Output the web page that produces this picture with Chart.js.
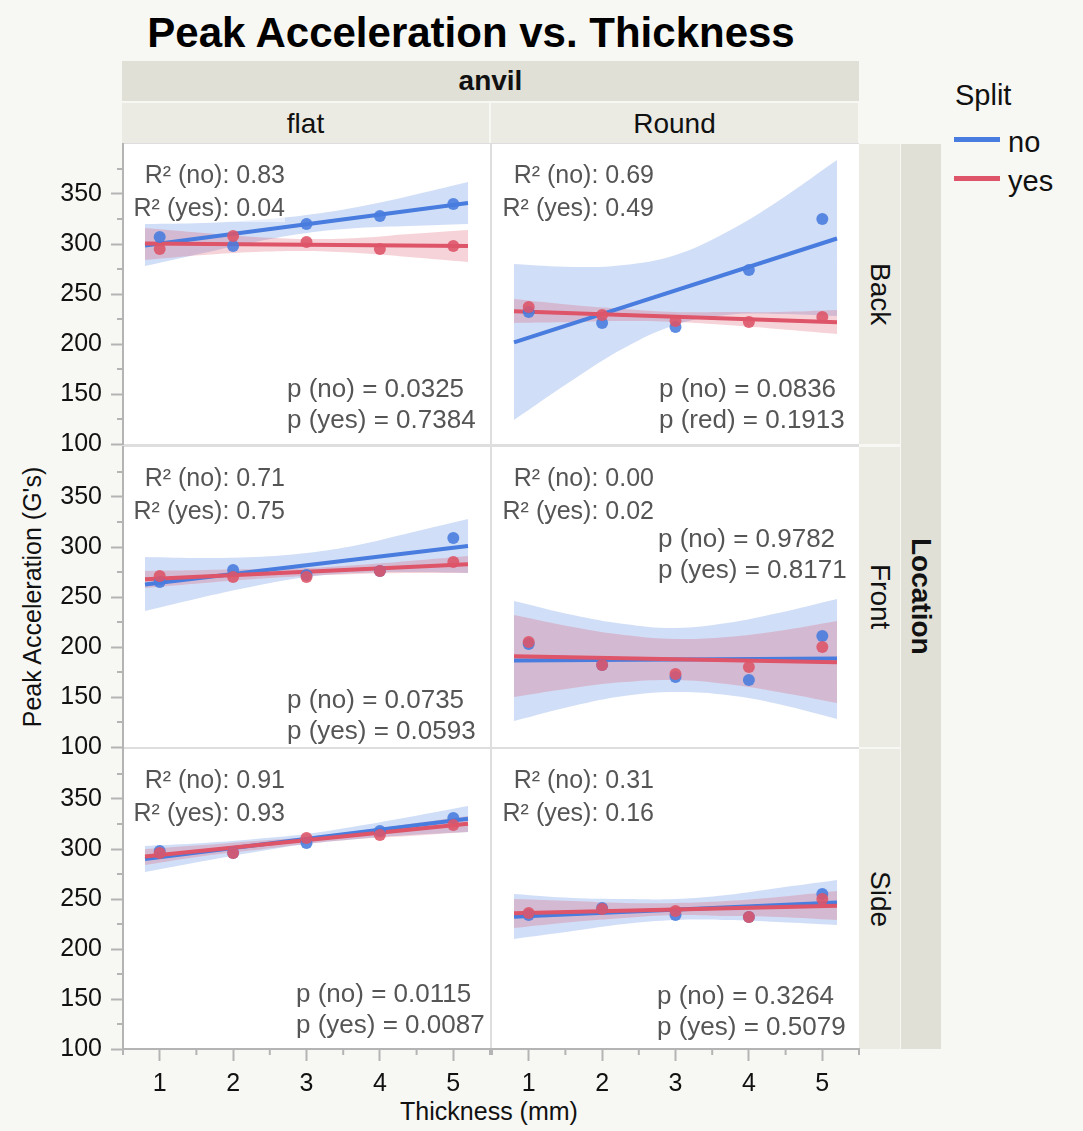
<!DOCTYPE html>
<html>
<head>
<meta charset="utf-8">
<script src="https://cdn.jsdelivr.net/npm/chart.js@4.4.0/dist/chart.umd.min.js"></script>
<style>
  body { margin: 0; background: #f7f7f3; font-family: "Liberation Sans", Arial, sans-serif; }
  #page { position: relative; width: 1083px; height: 1131px; overflow: hidden; }
  .abs { position: absolute; }
  .dark { background: #e0e0d6; }
  .light { background: #ebebe4; }
  .strip { display: flex; align-items: center; justify-content: center; color: #111; font-size: 28px; }
  .vert { writing-mode: vertical-rl; }
  .note { position: absolute; color: #555; font-size: 25px; line-height: 30px; white-space: nowrap; background: rgba(255, 255, 255, 0.55); }
  .pval { font-size: 26px; }
</style>
</head>
<body>
<div id="page"></div>
<script>
const thickness = [1, 2, 3, 4, 5];
const anvils = ["flat", "Round"];
const locations = ["Back", "Front", "Side"];

// panels: flat/Back, Round/Back, flat/Front, Round/Front, flat/Side, Round/Side
const peakNo = [
  [307, 298, 320, 328, 340],
  [232, 221, 217, 274, 325],
  [265, 277, 272, 276, 309],
  [203, 182, 170, 167, 211],
  [298, 296, 306, 318, 331],
  [234, 241, 234, 232, 255],
];
const peakYes = [
  [295, 308, 302, 295, 298],
  [237, 229, 223, 222, 227],
  [271, 270, 270, 276, 285],
  [205, 182, 173, 180, 200],
  [296, 296, 311, 314, 324],
  [236, 240, 238, 232, 250],
];

// fitted lines, read at both ends
const fitX = [0.8, 5.2];
const fitNo = [[298.5, 341], [201.7, 305.5], [262.6, 301], [186.4, 188.4], [290, 330.2], [232.2, 246.6]];
const fitYes = [[300.5, 298], [232.8, 221.8], [267.7, 282.7], [190.7, 184.7], [292.4, 325.2], [235.8, 243.3]];

// confidence bands, read along the x range
const bandX = [0.8, 1.6, 2.3, 3, 3.7, 4.4, 5.2];
const bandNoHi = [
  [320, 321, 324, 329, 337, 348, 362],
  [280, 277, 279, 289, 312, 343, 384],
  [290, 289, 290, 294, 302, 314, 328],
  [246, 232, 223, 219, 224, 234, 248],
  [303, 306, 310, 315, 323, 332, 343],
  [255, 251, 250, 250, 254, 261, 269],
];
const bandNoLo = [
  [278, 291, 302, 311, 316, 318, 320],
  [124, 164, 196, 219, 229, 230, 228],
  [236, 250, 261, 270, 274, 275, 274],
  [126, 141, 151, 155, 152, 143, 128],
  [277, 288, 297, 305, 310, 314, 317],
  [210, 218, 225, 229, 229, 227, 224],
];
const bandYesHi = [
  [316, 311, 307, 305, 306, 310, 314],
  [245, 239, 235, 232, 232, 232, 234],
  [276, 277, 278, 279, 282, 286, 291],
  [232, 220, 212, 208, 210, 216, 226],
  [300, 304, 308, 312, 318, 325, 333],
  [250, 248, 246, 246, 248, 252, 258],
];
const bandYesLo = [
  [284, 289, 292, 293, 291, 287, 282],
  [221, 222, 223, 222, 219, 215, 210],
  [259, 264, 268, 271, 273, 274, 274],
  [150, 159, 165, 167, 163, 155, 144],
  [284, 293, 299, 305, 310, 313, 317],
  [221, 227, 231, 234, 233, 232, 229],
];

const r2No = ["0.83", "0.69", "0.71", "0.00", "0.91", "0.31"];
const r2Yes = ["0.04", "0.49", "0.75", "0.02", "0.93", "0.16"];
const pNo = ["0.0325", "0.0836", "0.0735", "0.9782", "0.0115", "0.3264"];
const pYes = ["0.7384", "0.1913", "0.0593", "0.8171", "0.0087", "0.5079"];
const pYesName = ["yes", "red", "yes", "yes", "yes", "yes"];

const yTicks = [100, 150, 200, 250, 300, 350];
const yMinor = [125, 175, 225, 275, 325, 375];
const xTicks = [1, 2, 3, 4, 5];
const xMinor = [0.5, 1.5, 2.5, 3.5, 4.5, 5.5];

// layout
const colX = [123, 492];
const rowY = [144, 447, 749];
const panelW = 367, panelH = 300, M = 30;
const r2Right = [285, 654];
const pLeft = [287, 659, 287, 658, 296, 657];
const pTop = [244, 244, 252, 91, 244, 246];

const blue = "rgb(72, 124, 222)";
const red = "rgb(222, 84, 104)";
const blueBand = "rgba(72, 124, 222, 0.25)";
const redBand = "rgba(220, 80, 100, 0.25)";
const bluePt = "rgba(72, 124, 222, 0.88)";
const redPt = "rgba(222, 84, 104, 0.88)";
const axisGray = "#b4b4b4";
const font = { family: "'Liberation Sans', Arial, sans-serif", size: 25 };

const page = document.getElementById("page");
function el(cls, style, text) {
  const d = document.createElement("div");
  d.className = cls;
  d.style.cssText = style;
  if (text !== undefined) d.textContent = text;
  page.appendChild(d);
  return d;
}

// title, strips, legend, axis titles
el("abs", "left:0;width:942px;top:9px;line-height:48px;text-align:center;font-size:42px;font-weight:bold;color:#000", "Peak Acceleration vs. Thickness");
el("abs strip dark", "left:122px;top:61px;width:737px;height:40px;font-weight:bold", "anvil");
anvils.forEach((a, c) => {
  el("abs strip light", `left:${colX[c] - 1}px;top:103px;width:${panelW}px;height:41px`, a);
});
el("abs", `left:122px;top:143px;width:737px;height:907px;background:#dedede`);
locations.forEach((loc, r) => {
  el("abs strip light vert", `left:859px;top:${rowY[r]}px;width:41px;height:${panelH}px`, loc);
});
el("abs strip dark vert", "left:901px;top:144px;width:40px;height:905px;font-weight:bold", "Location");

el("abs", "left:955px;top:79px;font-size:29px;line-height:32px;color:#111", "Split");
el("abs", "left:954px;top:137px;width:46px;height:5px;background:" + blue);
el("abs", "left:954px;top:176px;width:46px;height:5px;background:" + red);
el("abs", "left:1008px;top:126px;font-size:29px;line-height:32px;color:#111", "no");
el("abs", "left:1008px;top:165px;font-size:29px;line-height:32px;color:#111", "yes");

el("abs", "left:-118px;top:582px;width:300px;text-align:center;font-size:25px;line-height:30px;color:#111;transform:rotate(-90deg)", "Peak Acceleration (G's)");
el("abs", "left:339px;top:1096px;width:300px;text-align:center;font-size:25px;line-height:30px;color:#111", "Thickness (mm)");

const minorTicks = {
  id: "minorTicks",
  afterDraw(chart) {
    const { ctx, chartArea, scales } = chart;
    ctx.save();
    ctx.strokeStyle = axisGray;
    ctx.lineWidth = 2;
    ctx.beginPath();
    if (scales.y.options.display) {
      yMinor.forEach(v => {
        const y = scales.y.getPixelForValue(v);
        ctx.moveTo(chartArea.left - 6, y);
        ctx.lineTo(chartArea.left, y);
      });
    }
    if (scales.x.options.display) {
      xMinor.forEach(v => {
        const x = scales.x.getPixelForValue(v);
        ctx.moveTo(x, chartArea.bottom);
        ctx.lineTo(x, chartArea.bottom + 6);
      });
    }
    ctx.stroke();
    ctx.restore();
  },
};

const xy = (xs, ys) => xs.map((x, i) => ({ x, y: ys[i] }));

function makePanel(i) {
  const row = Math.floor(i / 2), col = i % 2;
  const isLeft = col === 0, isBottom = row === 2;
  const px = colX[col], py = rowY[row];
  const padL = isLeft ? 123 : M;
  const padB = isBottom ? 55 : M;

  el("abs", `left:${px}px;top:${py}px;width:${panelW}px;height:${panelH}px;background:#fff`);

  const canvas = document.createElement("canvas");
  canvas.width = padL + panelW + M;
  canvas.height = M + panelH + padB;
  canvas.style.cssText = `position:absolute;left:${px - padL}px;top:${py - M}px`;
  page.appendChild(canvas);

  new Chart(canvas, {
    type: "line",
    data: {
      datasets: [
        { data: xy(bandX, bandNoHi[i]), fill: "+1", backgroundColor: blueBand, borderWidth: 0, pointRadius: 0, tension: 0.4, order: 12 },
        { data: xy(bandX, bandNoLo[i]), fill: false, borderWidth: 0, pointRadius: 0, tension: 0.4, order: 12 },
        { data: xy(bandX, bandYesHi[i]), fill: "+1", backgroundColor: redBand, borderWidth: 0, pointRadius: 0, tension: 0.4, order: 11 },
        { data: xy(bandX, bandYesLo[i]), fill: false, borderWidth: 0, pointRadius: 0, tension: 0.4, order: 11 },
        { data: xy(fitX, fitNo[i]), borderColor: blue, borderWidth: 4, pointRadius: 0, order: 8 },
        { data: xy(fitX, fitYes[i]), borderColor: red, borderWidth: 4, pointRadius: 0, order: 7 },
        { data: xy(thickness, peakNo[i]), showLine: false, pointRadius: 6, pointBackgroundColor: bluePt, pointBorderWidth: 0, order: 4 },
        { data: xy(thickness, peakYes[i]), showLine: false, pointRadius: 6, pointBackgroundColor: redPt, pointBorderWidth: 0, order: 3 },
      ],
    },
    options: {
      responsive: false,
      animation: false,
      events: [],
      layout: { padding: { left: isLeft ? 0 : M, right: M, top: M, bottom: isBottom ? 0 : M } },
      scales: {
        x: {
          type: "linear",
          min: 0.5,
          max: 5.5,
          display: isBottom,
          afterBuildTicks: s => { s.ticks = xTicks.map(v => ({ value: v })); },
          afterFit: s => { if (isBottom) s.height = 55; },
          grid: { drawOnChartArea: false, tickLength: 12, tickColor: axisGray, tickWidth: 2 },
          border: { color: axisGray, width: 2 },
          ticks: { font, color: "#111", padding: 8, maxRotation: 0 },
        },
        y: {
          min: 100,
          max: 400,
          display: isLeft,
          afterBuildTicks: s => { s.ticks = yTicks.map(v => ({ value: v })); },
          afterFit: s => { if (isLeft) s.width = 123; },
          grid: { drawOnChartArea: false, tickLength: 12, tickColor: axisGray, tickWidth: 2 },
          border: { color: axisGray, width: 2 },
          ticks: { font, color: "#111", padding: 9 },
        },
      },
      plugins: { legend: { display: false }, tooltip: { enabled: false } },
    },
    plugins: [minorTicks],
  });

  // annotations
  const rr = 1083 - r2Right[col];
  el("note", `right:${rr}px;top:${py + 30 - 15}px`, `R² (no): ${r2No[i]}`);
  el("note", `right:${rr}px;top:${py + 63 - 15}px`, `R² (yes): ${r2Yes[i]}`);
  el("note pval", `left:${pLeft[i]}px;top:${py + pTop[i] - 15}px`, `p (no) = ${pNo[i]}`);
  el("note pval", `left:${pLeft[i]}px;top:${py + pTop[i] + 31 - 15}px`, `p (${pYesName[i]}) = ${pYes[i]}`);
}

for (let i = 0; i < 6; i++) makePanel(i);
</script>
</body>
</html>
